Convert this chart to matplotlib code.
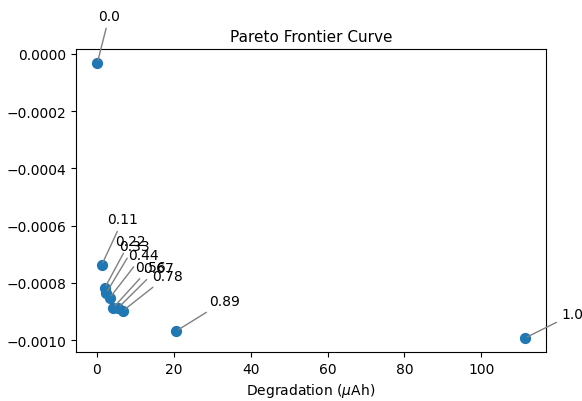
import matplotlib
matplotlib.use("Agg")
import matplotlib.pyplot as plt

# weights for each point on the frontier
labels = ["0.0", "0.11", "0.22", "0.33", "0.44", "0.56", "0.67", "0.78", "0.89", "1.0"]
degradation = [0.1, 1.2, 2.0, 2.4, 3.3, 4.2, 5.5, 6.8, 20.6, 111.3]
objective = [-0.0000311, -0.000738, -0.000818, -0.000835, -0.000852,
             -0.000887, -0.000887, -0.000897, -0.000968, -0.000993]

# label offsets in pixels (adjusted by hand, like adjustText would do)
offsets = [(1, 47), (6, 46), (10, 47), (13, 47), (18, 43),
           (22, 41), (25, 40), (29, 35), (33, 30), (37, 24)]

fig = plt.figure(figsize=(5.82, 4.02), dpi=100)
ax = fig.add_axes([0.1306, 0.1219, 0.8076, 0.7537])

ax.scatter(degradation, objective, s=50, color="tab:blue", zorder=3)

for lab, x, y, off in zip(labels, degradation, objective, offsets):
    ax.annotate(lab, (x, y), xytext=off, textcoords="offset pixels",
                ha="left", va="center", fontsize=10, annotation_clip=False,
                arrowprops=dict(arrowstyle="-", color="gray", lw=1))

ax.set_title("Pareto Frontier Curve", fontsize=11)
ax.set_xlabel(r"Degradation ($\mu$Ah)")

fig.savefig("out.png", dpi=100)
